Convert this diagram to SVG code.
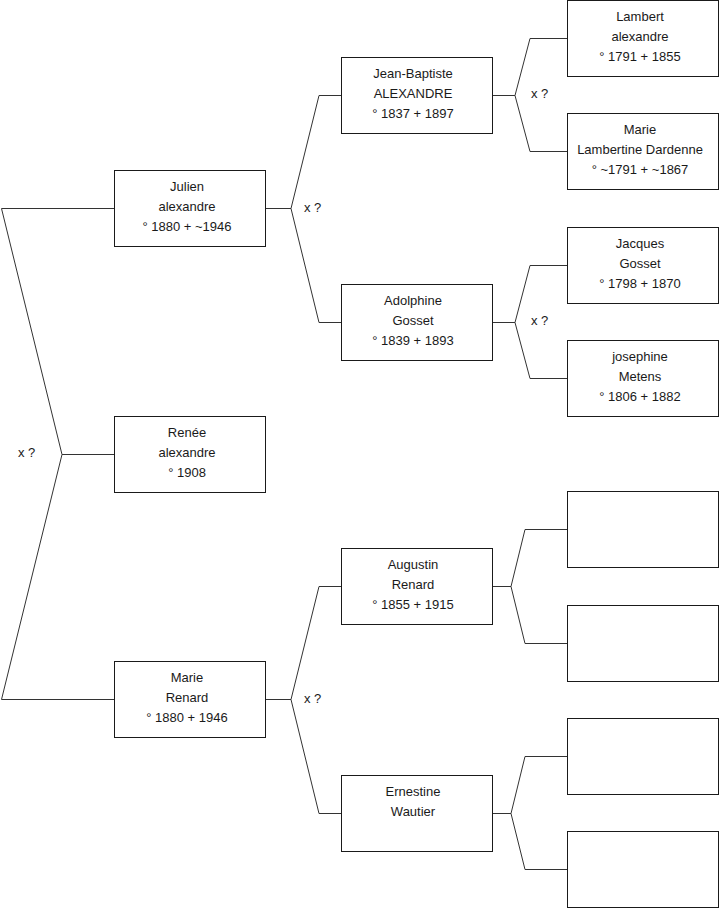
<svg xmlns="http://www.w3.org/2000/svg" width="719" height="908" viewBox="0 0 719 908">
<style>
.box{fill:#fff;stroke:#1a1a1a;stroke-width:1}
.ln{fill:none;stroke:#333;stroke-width:1}
text{font-family:"Liberation Sans",Arial,sans-serif;font-size:13px;fill:#1a1a1a}
.c{text-anchor:middle}
</style>
<rect width="719" height="908" fill="#fff"/>
<g id="connectors">
<polyline class="ln" points="114,208.5 1.5,208.5 62,454.5 1.5,699.5 114,699.5"/>
<line class="ln" x1="62" y1="454.5" x2="114" y2="454.5"/>
<polyline class="ln" points="341,95.5 319,95.5 291,208.5 319,322.5 341,322.5"/>
<line class="ln" x1="265" y1="208.5" x2="291" y2="208.5"/>
<polyline class="ln" points="341,586.5 319,586.5 291,699.5 319,813.5 341,813.5"/>
<line class="ln" x1="265" y1="699.5" x2="291" y2="699.5"/>
<polyline class="ln" points="567,38.5 530,38.5 515,95.5 530,151.5 567,151.5"/>
<line class="ln" x1="492" y1="95.5" x2="515" y2="95.5"/>
<polyline class="ln" points="567,265.5 530,265.5 515,322.5 530,378.5 567,378.5"/>
<line class="ln" x1="492" y1="322.5" x2="515" y2="322.5"/>
<polyline class="ln" points="567,529.5 525,529.5 511,586.5 525,643.5 567,643.5"/>
<line class="ln" x1="492" y1="586.5" x2="511" y2="586.5"/>
<polyline class="ln" points="567,756.5 525,756.5 511,813.5 525,869.5 567,869.5"/>
<line class="ln" x1="492" y1="813.5" x2="511" y2="813.5"/>
<text x="18" y="457">x ?</text>
<text x="304" y="212">x ?</text>
<text x="304" y="703">x ?</text>
<text x="531" y="98">x ?</text>
<text x="531" y="325">x ?</text>
</g>
<g id="julien"><rect class="box" x="114.5" y="170.5" width="151" height="76"/>
<text class="c" x="187" y="191">Julien</text><text class="c" x="187" y="211">alexandre</text><text class="c" x="187" y="230.5">° 1880 + ~1946</text></g>
<g id="renee"><rect class="box" x="114.5" y="416.5" width="151" height="76"/>
<text class="c" x="187" y="437">Renée</text><text class="c" x="187" y="457">alexandre</text><text class="c" x="187" y="476.5">° 1908</text></g>
<g id="marie"><rect class="box" x="114.5" y="661.5" width="151" height="76"/>
<text class="c" x="187" y="682">Marie</text><text class="c" x="187" y="702">Renard</text><text class="c" x="187" y="721.5">° 1880 + 1946</text></g>
<g id="jeanbaptiste"><rect class="box" x="341.5" y="57.5" width="151" height="76"/>
<text class="c" x="413" y="78">Jean-Baptiste</text><text class="c" x="413" y="98">ALEXANDRE</text><text class="c" x="413" y="117.5">° 1837 + 1897</text></g>
<g id="adolphine"><rect class="box" x="341.5" y="284.5" width="151" height="76"/>
<text class="c" x="413" y="305">Adolphine</text><text class="c" x="413" y="325">Gosset</text><text class="c" x="413" y="344.5">° 1839 + 1893</text></g>
<g id="augustin"><rect class="box" x="341.5" y="548.5" width="151" height="76"/>
<text class="c" x="413" y="569">Augustin</text><text class="c" x="413" y="589">Renard</text><text class="c" x="413" y="608.5">° 1855 + 1915</text></g>
<g id="ernestine"><rect class="box" x="341.5" y="775.5" width="151" height="76"/>
<text class="c" x="413" y="796">Ernestine</text><text class="c" x="413" y="816">Wautier</text></g>
<g id="lambert"><rect class="box" x="567.5" y="0.5" width="151" height="76"/>
<text class="c" x="640" y="21">Lambert</text><text class="c" x="640" y="41">alexandre</text><text class="c" x="640" y="60.5">° 1791 + 1855</text></g>
<g id="marielambertine"><rect class="box" x="567.5" y="113.5" width="151" height="76"/>
<text class="c" x="640" y="134">Marie</text><text class="c" x="640" y="154">Lambertine Dardenne</text><text class="c" x="640" y="173.5">° ~1791 + ~1867</text></g>
<g id="jacques"><rect class="box" x="567.5" y="227.5" width="151" height="76"/>
<text class="c" x="640" y="248">Jacques</text><text class="c" x="640" y="268">Gosset</text><text class="c" x="640" y="287.5">° 1798 + 1870</text></g>
<g id="josephine"><rect class="box" x="567.5" y="340.5" width="151" height="76"/>
<text class="c" x="640" y="361">josephine</text><text class="c" x="640" y="381">Metens</text><text class="c" x="640" y="400.5">° 1806 + 1882</text></g>
<g id="empty1"><rect class="box" x="567.5" y="491.5" width="151" height="76"/></g>
<g id="empty2"><rect class="box" x="567.5" y="605.5" width="151" height="76"/></g>
<g id="empty3"><rect class="box" x="567.5" y="718.5" width="151" height="76"/></g>
<g id="empty4"><rect class="box" x="567.5" y="831.5" width="151" height="76"/></g>
</svg>
